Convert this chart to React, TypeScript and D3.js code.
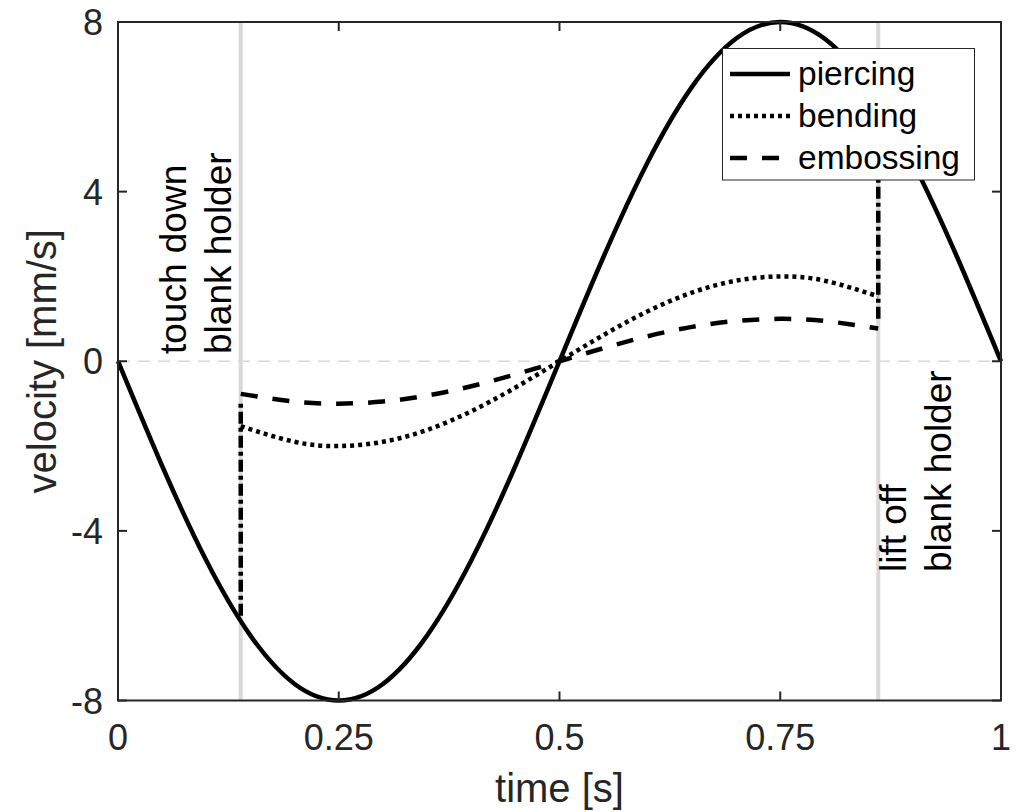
import React from 'react';
import * as d3 from 'd3';

// piercing velocity
const piercingT = [0, 0.05, 0.1, 0.15, 0.2, 0.25, 0.3, 0.35, 0.4, 0.45, 0.5, 0.55, 0.6, 0.65, 0.7, 0.75, 0.8, 0.85, 0.9, 0.95, 1];
const piercingV = [0, -2.47, -4.7, -6.47, -7.61, -8, -7.61, -6.47, -4.7, -2.47, 0, 2.47, 4.7, 6.47, 7.61, 8, 7.61, 6.47, 4.7, 2.47, 0];

// bending and embossing only while the blank holder is down
const toolT = [0.139, 0.2, 0.25, 0.3, 0.35, 0.4, 0.45, 0.5, 0.55, 0.6, 0.65, 0.7, 0.75, 0.8, 0.861];
const bendingV = [-1.53, -1.9, -2, -1.9, -1.62, -1.18, -0.62, 0, 0.62, 1.18, 1.62, 1.9, 2, 1.9, 1.53];
const embossingV = [-0.77, -0.95, -1, -0.95, -0.81, -0.59, -0.31, 0, 0.31, 0.59, 0.81, 0.95, 1, 0.95, 0.77];

// blank holder events
const touchDownT = 0.139;
const liftOffT = 0.861;
const touchDownJump = [-6, -1];
const liftOffJump = [1, 6.1];

const xTicks = [0, 0.25, 0.5, 0.75, 1];
const xTickLabels = ['0', '0.25', '0.5', '0.75', '1'];
const yTicks = [-8, -4, 0, 4, 8];
const yTickLabels = ['-8', '-4', '0', '4', '8'];

const legendItems = [
  { name: 'piercing', dash: 'none' },
  { name: 'bending', dash: '4,4' },
  { name: 'embossing', dash: '17,15' },
];

const W = 1025;
const H = 812;
const axisColor = '#262626';
const font = '"Liberation Sans", Arial, Helvetica, sans-serif';
const lw = 4.5;

export default function App() {
  const x = d3.scaleLinear().domain([0, 1]).range([118, 1001]);
  const y = d3.scaleLinear().domain([-8, 8]).range([700.5, 22]);
  const [x0, x1] = x.range();
  const [y0, y1] = y.range();

  const line = d3
    .line<[number, number]>()
    .x(d => x(d[0]))
    .y(d => y(d[1]))
    .curve(d3.curveNatural);

  const piercing = line(piercingT.map((t, i) => [t, piercingV[i]]));
  const bending = line(toolT.map((t, i) => [t, bendingV[i]]));
  const embossing = line(toolT.map((t, i) => [t, embossingV[i]]));

  const tick = 9;
  const lx = 730;
  const rowY = [85, 127, 169];

  return (
    <svg width={W} height={H} style={{ position: 'absolute', left: 0, top: 0, background: '#fff' }}>
      <rect x={0} y={0} width={W} height={H} fill="#fff" />

      {/* reference lines */}
      <line x1={x0} x2={x1} y1={y(0)} y2={y(0)} stroke="#d9d9d9" strokeWidth={1.5} strokeDasharray="12,8" />
      {[touchDownT, liftOffT].map(t => (
        <line key={t} x1={x(t)} x2={x(t)} y1={y1} y2={y0} stroke="#d9d9d9" strokeWidth={4} />
      ))}

      {/* curves */}
      <path d={piercing ?? ''} fill="none" stroke="#000" strokeWidth={lw} />
      <path d={bending ?? ''} fill="none" stroke="#000" strokeWidth={lw} strokeDasharray="4,4" />
      <path d={embossing ?? ''} fill="none" stroke="#000" strokeWidth={lw} strokeDasharray="17,15" />
      <line x1={x(touchDownT)} x2={x(touchDownT)} y1={y(touchDownJump[0])} y2={y(touchDownJump[1])}
        stroke="#000" strokeWidth={lw} strokeDasharray="12,4,4,4" />
      <line x1={x(liftOffT)} x2={x(liftOffT)} y1={y(liftOffJump[0])} y2={y(liftOffJump[1])}
        stroke="#000" strokeWidth={lw} strokeDasharray="12,4,4,4" />

      {/* annotations */}
      <g fontFamily={font} fontSize={37} fill="#000">
        <text transform={`translate(186,354) rotate(-90)`}>touch down</text>
        <text transform={`translate(231,354) rotate(-90)`}>blank holder</text>
        <text transform={`translate(906,572) rotate(-90)`}>lift off</text>
        <text transform={`translate(951,572) rotate(-90)`}>blank holder</text>
      </g>

      {/* axes box and ticks */}
      <g stroke={axisColor} strokeWidth={2} fill="none">
        <rect x={x0} y={y1} width={x1 - x0} height={y0 - y1} />
        {xTicks.map(t => (
          <g key={'x' + t}>
            <line x1={x(t)} x2={x(t)} y1={y0} y2={y0 - tick} />
            <line x1={x(t)} x2={x(t)} y1={y1} y2={y1 + tick} />
          </g>
        ))}
        {yTicks.map(v => (
          <g key={'y' + v}>
            <line x1={x0} x2={x0 + tick} y1={y(v)} y2={y(v)} />
            <line x1={x1} x2={x1 - tick} y1={y(v)} y2={y(v)} />
          </g>
        ))}
      </g>

      <g fontFamily={font} fontSize={36} fill={axisColor}>
        {xTicks.map((t, i) => (
          <text key={'xl' + t} x={x(t)} y={750} textAnchor="middle">{xTickLabels[i]}</text>
        ))}
        {yTicks.map((v, i) => (
          <text key={'yl' + v} x={103} y={y(v) + 13} textAnchor="end">{yTickLabels[i]}</text>
        ))}
      </g>

      <g fontFamily={font} fontSize={40} fill={axisColor}>
        <text x={(x0 + x1) / 2} y={802} textAnchor="middle">time [s]</text>
        <text transform={`translate(56,${(y0 + y1) / 2}) rotate(-90)`} textAnchor="middle">velocity [mm/s]</text>
      </g>

      {/* legend */}
      <rect x={722.5} y={48.5} width={252} height={131.5} fill="#fff" stroke={axisColor} strokeWidth={1} />
      {legendItems.map((d, i) => (
        <g key={d.name}>
          <line x1={lx} x2={lx + 60} y1={rowY[i] - 11} y2={rowY[i] - 11} stroke="#000" strokeWidth={lw}
            strokeDasharray={d.dash} />
          <text x={798} y={rowY[i]} fontFamily={font} fontSize={33.5} fill="#000">{d.name}</text>
        </g>
      ))}
    </svg>
  );
}
